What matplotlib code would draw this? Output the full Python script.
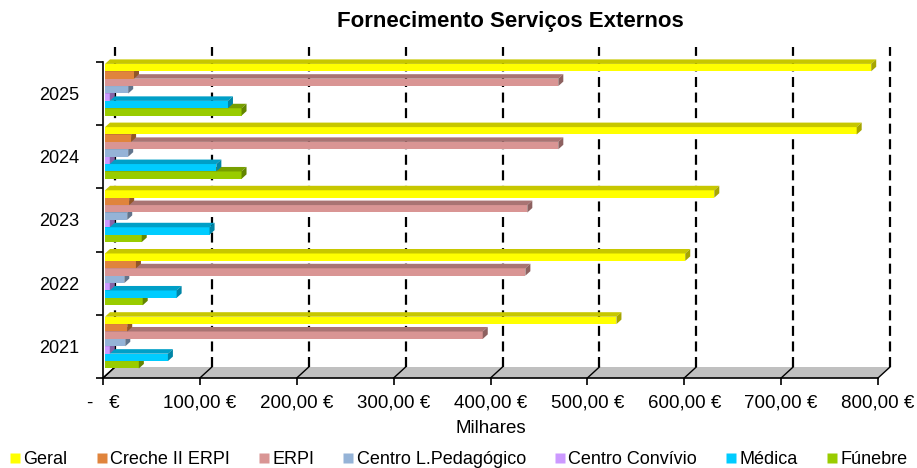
import matplotlib.pyplot as plt
from matplotlib.patches import Polygon
from matplotlib.lines import Line2D
import matplotlib.colors as mcolors

plt.rcParams['font.family'] = ['Liberation Sans', 'DejaVu Sans']

anos = ['2021', '2022', '2023', '2024', '2025']
series = ['Geral', 'Creche II ERPI', 'ERPI', 'Centro L.Pedagógico',
          'Centro Convívio', 'Médica', 'Fúnebre']
# valores em milhares de euros, por ano (2021..2025)
geral = [530, 601, 631, 778, 793]
creche = [25, 34, 27, 29, 32]
erpi = [392, 436, 438, 470, 470]
clp = [23, 22, 25, 26, 26]
convivio = [7, 7, 7, 7, 7]
medica = [67, 76, 110, 117, 129]
funebre = [37, 41, 40, 143, 143]
valores = [geral, creche, erpi, clp, convivio, medica, funebre]
cores = ['#FFFF00', '#E0843C', '#D99594', '#95B3D7', '#CC99FF', '#00CCFF', '#99CC00']
xticks = list(range(0, 801, 100))
xlabels = ['-   €'] + ['%d,00 €' % v for v in xticks[1:]]

W, H = 917, 468
fig = plt.figure(figsize=(W / 100, H / 100), dpi=100)
ax = fig.add_axes([103 / W, (H - 378) / H, 775 / W, 316 / H])
ax.set_xlim(0, 800)
ax.set_ylim(-0.5, 4.5)

# px -> data
px_x = 800 / 775
px_y = 5 / 316


def escurecer(c, f=0.78):
    r, g, b = mcolors.to_rgb(c)
    return (r * f, g * f, b * f)


# chao e parede do fundo
fdx, fdy = 12 * px_x, 11 * px_y
ax.add_patch(Polygon([(0, -0.5), (800, -0.5), (800 + fdx, -0.5 + fdy), (fdx, -0.5 + fdy)],
                     closed=True, facecolor='#C0C0C0', edgecolor='none', clip_on=False, zorder=1))
for v in xticks:
    ax.plot([v, v + fdx], [-0.5, -0.5 + fdy], color='black', lw=1, clip_on=False, zorder=2)
    ax.plot([v + fdx, v + fdx], [-0.5 + fdy, 4.5 + 15 * px_y], color='black', lw=1.6,
            linestyle=(0, (4.5, 2.5)), clip_on=False, zorder=1.5)

# barras 3D
h = 0.117
bdx, bdy = 5 * px_x, 4.5 * px_y
for i in range(len(anos)):
    for k in range(len(series) - 1, -1, -1):
        v = valores[k][i]
        y0 = i + 0.47 - h * (k + 1)
        y1 = y0 + h
        x0 = 2 * px_x
        z = 3 + (len(series) - k) * 0.1
        c = cores[k]
        d = escurecer(c)
        ax.barh(y0 + h / 2, v - x0, left=x0, height=h, color=c, zorder=z, linewidth=0)
        ax.add_patch(Polygon([(x0, y1), (v, y1), (v + bdx, y1 + bdy), (x0 + bdx, y1 + bdy)],
                             closed=True, facecolor=d, edgecolor='none', zorder=z, clip_on=False))
        ax.add_patch(Polygon([(v, y0), (v, y1), (v + bdx, y1 + bdy), (v + bdx, y0 + bdy)],
                             closed=True, facecolor=escurecer(c, 0.65), edgecolor='none', zorder=z,
                             clip_on=False))

# eixos
for s in ['top', 'right']:
    ax.spines[s].set_visible(False)
ax.spines['left'].set_linewidth(1.2)
ax.spines['bottom'].set_linewidth(1.2)
ax.spines['left'].set_zorder(10)
ax.spines['bottom'].set_zorder(10)
ax.plot([0, fdx], [-0.5, -0.5 + fdy], color='black', lw=1, clip_on=False, zorder=2)

ax.set_yticks([i - 0.5 for i in range(len(anos) + 1)])
ax.set_yticklabels([])
ax.set_yticks(range(len(anos)), minor=True)
ax.set_yticklabels(anos, minor=True, fontsize=13)
ax.tick_params(axis='y', which='major', length=5, width=1.2, direction='out')
ax.tick_params(axis='y', which='minor', length=0, pad=17)

ax.set_xticks(xticks)
ax.set_xticklabels(xlabels, fontsize=13.5)
ax.tick_params(axis='x', length=5, width=1.2, direction='out', pad=7)
ax.set_xlabel('Milhares', fontsize=13.5, labelpad=6)

fig.text(510 / W, 1 - 22 / H, 'Fornecimento Serviços Externos', ha='center', va='center',
         fontsize=16, fontweight='bold')

handles = [Line2D([], [], marker='s', linestyle='none', markersize=7, markerfacecolor=c,
                  markeredgecolor='none') for c in cores]
fig.legend(handles, series, loc='center', bbox_to_anchor=(0.5, 1 - 460 / H), ncol=7,
           frameon=False, fontsize=13, handlelength=0.6, handletextpad=0.15,
           columnspacing=1.6, borderaxespad=0)

fig.savefig('out.png', dpi=100)
